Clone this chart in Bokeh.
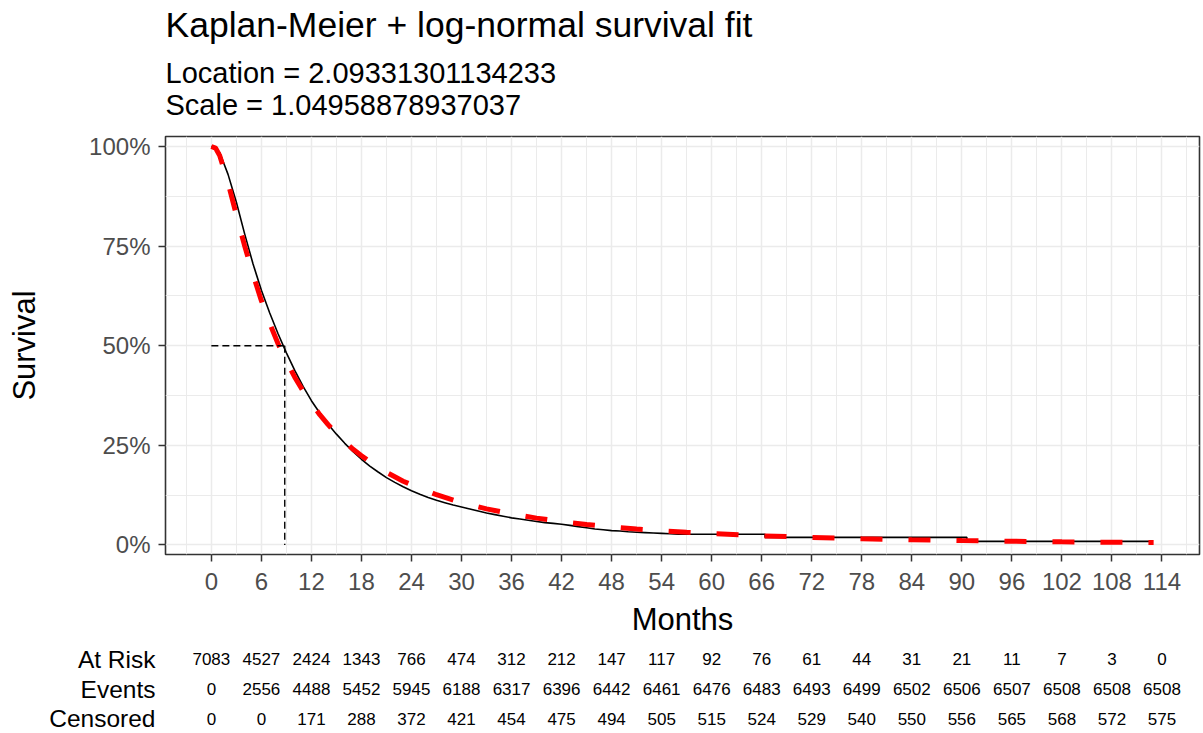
from bokeh.plotting import figure
from bokeh.layouts import column
from bokeh.models import Range1d, FixedTicker, FactorRange
from bokeh.core.properties import value
from bokeh.embed import file_html
from bokeh.resources import INLINE

FONT = "Liberation Sans"

title_text = "Kaplan-Meier + log-normal survival fit"
subtitle_lines = ["Location = 2.09331301134233", "Scale = 1.04958878937037"]
x_label = "Months"
y_label = "Survival"

# Kaplan-Meier curve
km_time = [0, 0.3, 1, 2, 3, 4, 5, 6, 7, 8, 9, 10, 11, 12, 13, 14, 15, 16, 17, 18, 19, 20,
           21, 22, 23, 24, 25, 26, 27, 28, 29, 30, 31, 32, 33, 34, 35, 36, 37, 38, 39, 40,
           41, 42, 43, 44, 45, 46, 47, 48, 49, 50, 51, 52, 53, 54, 55, 56, 66.4, 66.4,
           90.6, 90.6, 112.5]
km_surv = [1.0, 1.0, 0.985, 0.93, 0.86, 0.78, 0.705, 0.639, 0.582, 0.53, 0.482, 0.438, 0.398,
           0.362, 0.331, 0.303, 0.278, 0.255, 0.234, 0.215, 0.198, 0.183, 0.169, 0.157, 0.146,
           0.136, 0.127, 0.119, 0.112, 0.106, 0.100, 0.095, 0.090, 0.085, 0.080, 0.076, 0.072,
           0.068, 0.065, 0.062, 0.059, 0.056, 0.054, 0.052, 0.049, 0.046, 0.043, 0.040, 0.038,
           0.036, 0.035, 0.033, 0.032, 0.031, 0.030, 0.029, 0.028, 0.027, 0.027, 0.019,
           0.019, 0.009, 0.009]

# log-normal fitted survival
fit_time = [0, 0.5, 1, 2, 3, 4, 5, 6, 7, 8, 9, 10, 11, 12, 13, 14, 15, 16, 17, 18, 19, 20,
            21, 22, 23, 24, 27, 30, 33, 36, 39, 42, 45, 48, 51, 54, 57, 60, 66, 72, 78, 84,
            90, 96, 102, 108, 113]
fit_surv = [1.0, 0.996, 0.977, 0.909, 0.828, 0.750, 0.678, 0.613, 0.556, 0.505, 0.461, 0.421,
            0.386, 0.355, 0.327, 0.302, 0.279, 0.259, 0.240, 0.224, 0.209, 0.195, 0.182, 0.171,
            0.160, 0.151, 0.126, 0.106, 0.0906, 0.0778, 0.0673, 0.0586, 0.0513, 0.0451, 0.0399,
            0.0355, 0.0316, 0.0283, 0.0229, 0.0188, 0.0155, 0.0130, 0.0109, 0.0093, 0.0079,
            0.0068, 0.0060]

median_time = 8.8
median_surv = 0.5

x_ticks = [0, 6, 12, 18, 24, 30, 36, 42, 48, 54, 60, 66, 72, 78, 84, 90, 96, 102, 108, 114]
x_minor = [-3, 3, 9, 15, 21, 27, 33, 39, 45, 51, 57, 63, 69, 75, 81, 87, 93, 99, 105, 111, 117]
y_ticks = [0, 0.25, 0.5, 0.75, 1.0]
y_tick_labels = ["0%", "25%", "50%", "75%", "100%"]
y_minor = [0.125, 0.375, 0.625, 0.875]

table_rows = ["At Risk", "Events", "Censored"]
at_risk = [7083, 4527, 2424, 1343, 766, 474, 312, 212, 147, 117, 92, 76, 61, 44, 31, 21, 11, 7, 3, 0]
events = [0, 2556, 4488, 5452, 5945, 6188, 6317, 6396, 6442, 6461, 6476, 6483, 6493, 6499,
          6502, 6506, 6507, 6508, 6508, 6508]
censored = [0, 0, 171, 288, 372, 421, 454, 475, 494, 505, 515, 524, 529, 540, 550, 556, 565,
            568, 572, 575]

W = 1203
HEAD_H, MAIN_H, TAB_H = 130, 514, 89
L, R = 165, 4


# ---- header (title + subtitle), frame aligned with the plot frame ----
head = figure(width=W, height=HEAD_H, x_range=Range1d(0, W - L - R), y_range=Range1d(HEAD_H, 0),
              output_backend="svg", toolbar_location=None,
              x_axis_location=None, y_axis_location=None,
              min_border_left=L, min_border_right=R, min_border_top=0, min_border_bottom=0)
head.background_fill_color = "white"
head.border_fill_color = "white"
head.outline_line_color = None
head.grid.visible = False
head.text(x=[0], y=[24], text=[title_text], text_font=value(FONT), text_font_size="35.5px",
          text_color="black", text_align="left", text_baseline="alphabetic")
head.text(x=[0, 0], y=[72, 104], text=subtitle_lines, text_font=value(FONT),
          text_font_size="29px", text_color="black", text_align="left",
          text_baseline="alphabetic")

# ---- main plot ----
p = figure(width=W, height=MAIN_H, x_range=Range1d(-5.5, 118.5), y_range=Range1d(-0.024, 1.025),
           output_backend="svg", toolbar_location=None,
           min_border_left=L, min_border_right=R, min_border_top=6, min_border_bottom=90)
p.background_fill_color = "white"
p.border_fill_color = "white"
p.outline_line_color = "#333333"
p.outline_line_width = 1.6

p.xaxis.ticker = FixedTicker(ticks=x_ticks, minor_ticks=x_minor)
p.yaxis.ticker = FixedTicker(ticks=y_ticks, minor_ticks=y_minor)
p.yaxis.major_label_overrides = {t: s for t, s in zip(y_ticks, y_tick_labels)}

for g in (p.xgrid, p.ygrid):
    g.grid_line_color = "#EBEBEB"
    g.grid_line_width = 1.5
    g.minor_grid_line_color = "#EBEBEB"
    g.minor_grid_line_width = 1.0

for ax in (p.xaxis, p.yaxis):
    ax.axis_line_color = None
    ax.major_tick_line_color = "#333333"
    ax.major_tick_line_width = 1.5
    ax.major_tick_out = 7
    ax.major_tick_in = 0
    ax.minor_tick_line_color = None
    ax.major_label_text_font = FONT
    ax.major_label_text_font_size = "24px"
    ax.major_label_text_color = "#4D4D4D"
    ax.axis_label_text_font = FONT
    ax.axis_label_text_font_size = "31px"
    ax.axis_label_text_font_style = "normal"
    ax.axis_label_text_color = "black"

p.xaxis.axis_label = x_label
p.yaxis.axis_label = y_label
p.xaxis.major_label_standoff = 11
p.yaxis.major_label_standoff = 8
p.xaxis.axis_label_standoff = 9
p.yaxis.axis_label_standoff = 44

p.line(km_time, km_surv, line_color="black", line_width=1.6)
p.line(fit_time, fit_surv, line_color="#FF0000", line_width=5, line_dash="22 26", line_cap="butt")
p.line([0, median_time], [median_surv, median_surv], line_color="black", line_width=1.4,
       line_dash="7 4")
p.line([median_time, median_time], [median_surv, 0], line_color="black", line_width=1.4,
       line_dash="7 4")

# ---- risk table ----
tab = figure(width=W, height=TAB_H, x_range=p.x_range,
             y_range=FactorRange(factors=list(reversed(table_rows))),
             output_backend="svg", toolbar_location=None,
             min_border_left=L, min_border_right=R, min_border_top=0, min_border_bottom=0)
tab.background_fill_color = "white"
tab.border_fill_color = "white"
tab.outline_line_color = None
tab.grid.visible = False
tab.xaxis.visible = False
tab.yaxis.axis_line_color = None
tab.yaxis.major_tick_line_color = None
tab.yaxis.minor_tick_line_color = None
tab.yaxis.major_label_text_font = FONT
tab.yaxis.major_label_text_font_size = "24.5px"
tab.yaxis.major_label_text_color = "black"
tab.yaxis.major_label_standoff = 4

for name, vals in zip(table_rows, [at_risk, events, censored]):
    tab.text(x=x_ticks, y=[name] * len(x_ticks), text=[str(v) for v in vals],
             text_font=value(FONT), text_font_size="17px", text_color="black",
             text_align="center", text_baseline="middle")

layout = column(head, p, tab, spacing=0)
open("out.html", "w").write(file_html(layout, INLINE))
